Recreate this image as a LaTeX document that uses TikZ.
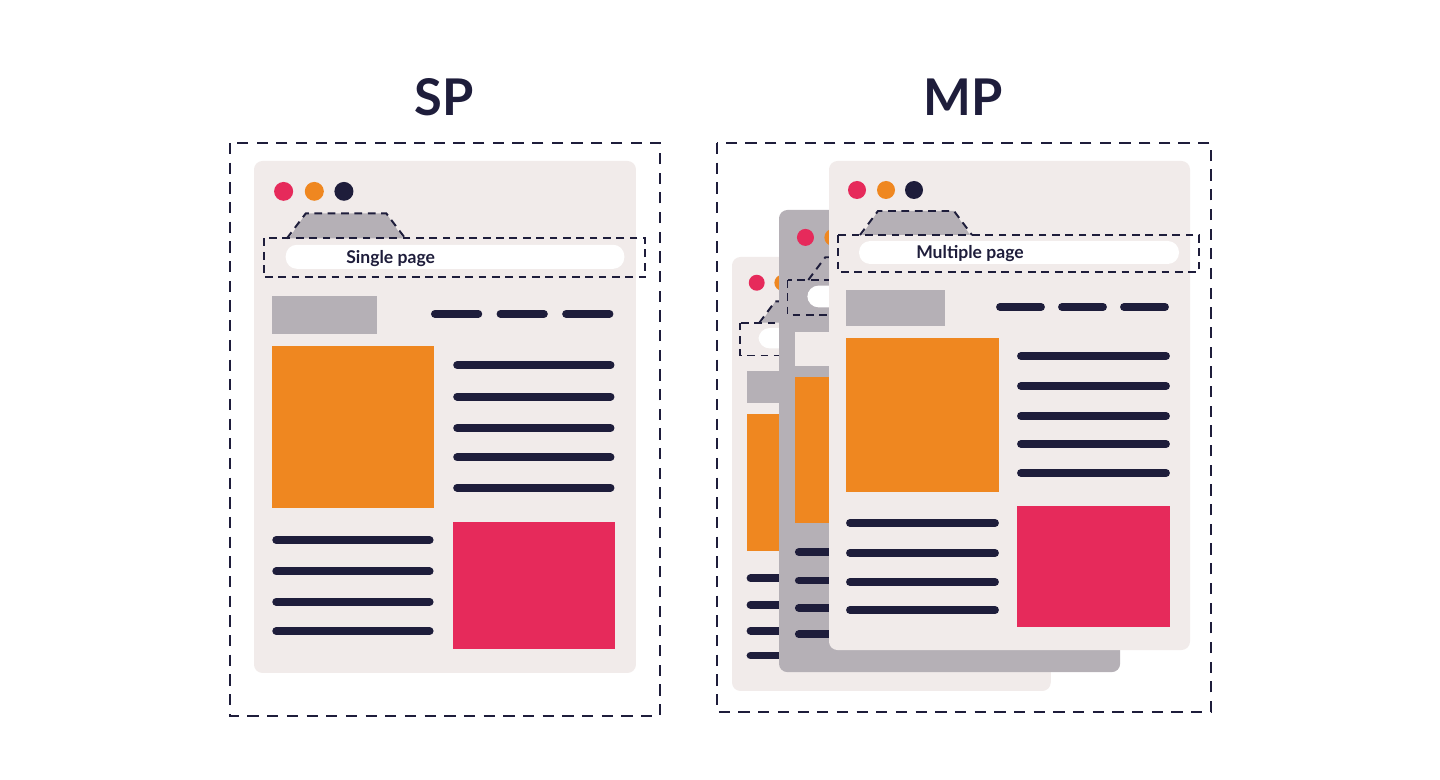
\documentclass[tikz,border=0pt]{standalone}
\usepackage{fontspec}
\setmainfont{Lato}
\usepackage{xcolor}
\usepackage{tikz}

\definecolor{pagebg}{HTML}{F1EBEA}
\definecolor{tabgray}{HTML}{B5B0B6}
\definecolor{dotpink}{HTML}{E62A5B}
\definecolor{dotorange}{HTML}{EF8720}
\definecolor{inkblue}{HTML}{1E1D3B}

% one browser window, drawn in its own frame (361 x 489)
% #1,#2 origin  #3,#4 scale  #5 page  #6 tab  #7 block  #8 label  #9 label name
\newcommand{\browserpage}[9]{%
\begin{scope}[shift={(#1,#2)}, xscale=#3, yscale=#4]
  \fill[#5, rounded corners=6pt] (0,0) rectangle (361,489);
  \fill[#6] (33,74) -- (49,50) -- (125,50) -- (141,74) -- cycle;
  \draw[dashline] (31,74) -- (49,50) -- (125,50) -- (143,74);
  \fill[dotpink] (28,29) circle [radius=9];
  \fill[dotorange] (57,29) circle [radius=9];
  \fill[inkblue] (85,29) circle [radius=9];
  \draw[dashline] (9,74) rectangle (370,111);
  \fill[white, rounded corners=8pt] (30,80) rectangle (350,103);
  \node (#9) [pagelabel] at (87,93) {#8};
  \fill[#7] (17,129) rectangle (116,165);
  \foreach \dx in {171,233,295}
    \draw[textline] (\dx,146) -- ++(41,0);
  \fill[dotorange] (17,177) rectangle (170,331);
  \foreach \ly in {195,225,255,283,312}
    \draw[textline] (192,\ly) -- (337,\ly);
  \foreach \ly in {362,392,421,449}
    \draw[textline] (21,\ly) -- (166,\ly);
  \fill[dotpink] (188,345) rectangle (341,466);
\end{scope}}

\begin{document}
\begin{tikzpicture}[
    x=0.25mm, y=-0.25mm,
    every node/.style={text=inkblue},
    title/.style={font=\fontsize{36}{40}\selectfont\bfseries},
    pagelabel/.style={anchor=west, inner sep=0pt, font=\fontsize{12.5}{14}\selectfont\bfseries},
    textline/.style={draw=inkblue, line width=5.6pt, line cap=round},
    dashline/.style={draw=inkblue, line width=1.4pt, dash pattern=on 5.5pt off 4pt},
    framebox/.style={draw=inkblue, line width=1.4pt, dash pattern=on 8pt off 6pt}
]
\useasboundingbox (0,0) rectangle (1440,780);

% Titles
\node (sptitle) [title] at (444,97) {SP};
\node (mptitle) [title] at (963,97) {MP};

% Frames
\draw[framebox] (230,143) rectangle (660,716);
\draw[framebox] (717,143) rectangle (1211,712);

% Single page
\browserpage{254}{161}{1.058}{1.047}{pagebg}{tabgray}{tabgray}{Single page}{splabel}

% Multiple pages, back to front
\browserpage{732}{257}{0.883}{0.8875}{pagebg}{tabgray}{tabgray}{}{backlabel}
\browserpage{779}{210}{0.945}{0.945}{tabgray}{tabgray}{pagebg}{}{midlabel}
\browserpage{829}{161}{1}{1}{pagebg}{tabgray}{tabgray}{Multiple page}{mplabel}

\end{tikzpicture}
\end{document}
